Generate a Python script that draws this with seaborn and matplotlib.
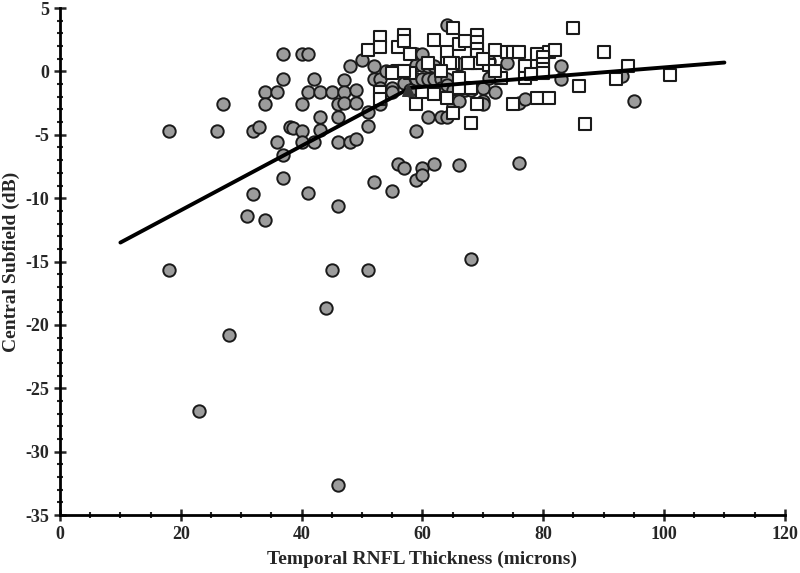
import numpy as np
import pandas as pd
import seaborn as sns
import matplotlib.pyplot as plt
from matplotlib.ticker import MultipleLocator

# gray circles
circ_x = [18, 18, 23, 28, 26, 27, 31, 32, 32, 33, 34, 34, 34, 36, 36, 37, 37, 37, 37, 38,
          38.5, 40, 41, 40, 40, 40, 41, 41, 42, 42, 43, 43, 43, 44, 45, 45, 46, 46, 46, 46,
          46, 47, 47, 47, 48, 48, 49, 49, 49, 50, 51, 51, 51, 52, 52, 52, 53, 53, 53, 54,
          55, 55, 55, 56, 56, 57, 57, 59, 59, 59, 59, 59, 60, 60, 60, 60, 60, 61, 61, 61,
          62, 62, 62, 63, 63, 63, 64, 64, 64, 64, 65, 65, 65, 66, 66, 66, 66, 67, 68, 68,
          70, 70, 70, 71, 71, 72, 74, 76, 76, 77, 83, 83, 93, 95, 55, 58]
circ_y = [-4.7, -15.7, -26.8, -20.8, -4.7, -2.6, -11.4, -9.7, -4.7, -4.4, -11.7, -1.6, -2.6, -1.6, -5.6, 1.4, -0.6, -6.6, -8.4, -4.4,
          -4.5, 1.4, 1.4, -2.6, -4.7, -5.6, -1.6, -9.6, -0.6, -5.6, -1.6, -3.6, -4.6, -18.7, -1.6, -15.7, -2.6, -3.6, -5.6, -10.6,
          -32.6, -0.7, -1.6, -2.5, 0.4, -5.6, -1.5, -2.5, -5.3, 0.9, -3.2, -4.3, -15.7, 0.4, -0.6, -8.7, -0.6, -1.3, -2.6, 0.0,
          0.0, -1.3, -9.4, 0.0, -7.3, -0.9, -7.6, -4.7, -8.6, 1.4, 0.5, -0.6, 1.4, 0.5, -0.6, -7.6, -8.2, 0.4, -0.6, -3.6,
          0.4, -0.6, -7.3, -0.6, -1.3, -3.6, 3.7, -0.6, -1.1, -3.6, -1.5, -2.3, -2.6, 0.6, -1.5, -2.3, -7.4, -1.5, -1.5, -14.8,
          -1.3, -2.3, -2.6, 0.8, -0.5, -1.6, 0.7, -2.5, -7.2, -2.2, 0.4, -0.6, -0.4, -2.3, -1.6, -1.5]

# white squares
sq_x = [51, 53, 53, 56, 57, 57, 58, 62, 65, 64, 66, 67, 69, 69, 69, 69, 72, 74, 75, 76,
        79, 81, 82, 85, 90, 80, 80, 80, 80, 77, 77, 73, 64, 65, 68, 69, 61, 58, 56, 57,
        55, 59, 64, 65, 68, 69, 75, 79, 81, 86, 87, 92, 94, 101, 66, 68, 71, 53, 53, 64.5,
        67.5, 70, 78, 72, 66, 63, 60, 62]
sq_y = [1.7, 2.7, 1.9, 1.9, 2.9, 2.4, 1.4, 2.5, 3.4, 1.5, 2.2, 2.4, 2.85, 2.3, 1.8, 1.3, 1.7, 1.5, 1.5, 1.5,
        1.4, 1.5, 1.7, 3.4, 1.5, 1.1, 0.6, 0.2, -0.15, 0.4, -0.5, -0.5, 0.65, 0.65, 0.65, 0.65, 0.7, -0.1, 0.0, 0.0,
        -0.1, -2.6, -2.1, -3.3, -4.05, -2.6, -2.6, -2.1, -2.1, -1.15, -4.15, -0.6, 0.4, -0.3, -1.3, -1.3, 0.5, -1.6, -2.2, 0.7,
        0.7, 1.0, -0.2, 0.0, -0.5, 0.0, -1.6, -1.8]

# broken-stick fit
fit_x = [10, 58, 110]
fit_y = [-13.5, -1.3, 0.7]
knee_x = [57.6]
knee_y = [-1.5]

sns.set_style("ticks")
plt.rcParams['font.family'] = ['Liberation Serif', 'DejaVu Serif']
plt.rcParams['font.weight'] = 'bold'
plt.rcParams['axes.unicode_minus'] = False

fig = plt.figure(figsize=(8, 5.73), dpi=100)
ax = fig.add_axes([0.075, 0.101, 0.906, 0.885])

circ = pd.DataFrame({'x': circ_x, 'y': circ_y})
sq = pd.DataFrame({'x': sq_x, 'y': sq_y})

sns.scatterplot(data=circ, x='x', y='y', marker='o', s=80, color='#9c9c9c',
                edgecolor='#1a1a1a', linewidth=1.4, ax=ax, zorder=3)
sns.scatterplot(data=sq, x='x', y='y', marker='s', s=75, color='white',
                edgecolor='#1a1a1a', linewidth=1.5, ax=ax, zorder=3)
sns.lineplot(x=fit_x, y=fit_y, color='black', linewidth=2.8, ax=ax, zorder=4)
ax.scatter(knee_x, knee_y, marker='^', s=70, color='#333333', zorder=5)

ax.set_xlim(0, 120)
ax.set_ylim(-35, 5)
ax.xaxis.set_major_locator(MultipleLocator(20))
ax.xaxis.set_minor_locator(MultipleLocator(5))
ax.yaxis.set_major_locator(MultipleLocator(5))
ax.yaxis.set_minor_locator(MultipleLocator(1))
ax.tick_params(which='major', direction='inout', length=9, width=1.8, labelsize=13, pad=3)
ax.tick_params(which='minor', direction='inout', length=5, width=1.5)
for s in ['top', 'right']:
    ax.spines[s].set_visible(False)
for s in ['left', 'bottom']:
    ax.spines[s].set_linewidth(2)
    ax.spines[s].set_color('black')

ax.set_xlabel('Temporal RNFL Thickness (microns)', fontsize=14, fontweight='bold', labelpad=6)
ax.set_ylabel('Central Subfield (dB)', fontsize=14, fontweight='bold', labelpad=4)

fig.savefig('out.png', dpi=100)
